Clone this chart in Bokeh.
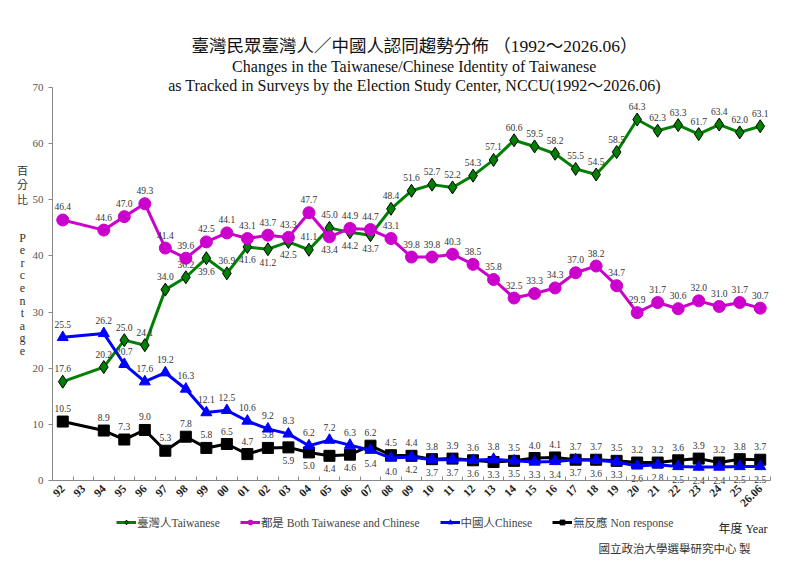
from bokeh.plotting import figure
from bokeh.models import ColumnDataSource, FixedTicker, Label, Legend, LegendItem, Range1d
from bokeh.core.properties import value
from bokeh.embed import file_html
from bokeh.resources import INLINE

# Data; 93 has no survey
years = ["92", "93", "94", "95", "96", "97", "98", "99", "00", "01", "02", "03", "04", "05",
         "06", "07", "08", "09", "10", "11", "12", "13", "14", "15", "16", "17", "18", "19",
         "20", "21", "22", "23", "24", "25", "26.06"]
taiwanese = [17.6, None, 20.2, 25.0, 24.1, 34.0, 36.2, 39.6, 36.9, 41.6, 41.2, 42.5, 41.1, 45.0,
             44.2, 43.7, 48.4, 51.6, 52.7, 52.2, 54.3, 57.1, 60.6, 59.5, 58.2, 55.5, 54.5, 58.5,
             64.3, 62.3, 63.3, 61.7, 63.4, 62.0, 63.1]
both = [46.4, None, 44.6, 47.0, 49.3, 41.4, 39.6, 42.5, 44.1, 43.1, 43.7, 43.3, 47.7, 43.4,
        44.9, 44.7, 43.1, 39.8, 39.8, 40.3, 38.5, 35.8, 32.5, 33.3, 34.3, 37.0, 38.2, 34.7,
        29.9, 31.7, 30.6, 32.0, 31.0, 31.7, 30.7]
chinese = [25.5, None, 26.2, 20.7, 17.6, 19.2, 16.3, 12.1, 12.5, 10.6, 9.2, 8.3, 6.2, 7.2,
           6.3, 5.4, 4.0, 4.2, 3.7, 3.7, 3.6, 3.8, 3.5, 3.3, 3.4, 3.7, 3.6, 3.3,
           2.6, 2.8, 2.5, 2.4, 2.4, 2.5, 2.5]
nonresp = [10.5, None, 8.9, 7.3, 9.0, 5.3, 7.8, 5.8, 6.5, 4.7, 5.8, 5.9, 5.0, 4.4,
           4.6, 6.2, 4.5, 4.4, 3.8, 3.9, 3.6, 3.3, 3.5, 4.0, 4.1, 3.7, 3.7, 3.5,
           3.2, 3.2, 3.6, 3.9, 3.2, 3.8, 3.7]
y_ticks = [0, 10, 20, 30, 40, 50, 60, 70]

SERIF = "'Liberation Serif', 'Noto Sans CJK TC'"
CJK = "'Noto Sans CJK TC'"

W, H = 800, 565
# plot area in page pixels: x 52..770, y 87..480 ; frame covers the whole canvas
n = len(years)
xpx = 718 / n
ypx = 393 / 70
x0 = -0.5 - 52 / xpx
y1 = 70 + 87 / ypx
p = figure(width=W, height=H, output_backend="svg", toolbar_location=None,
           x_range=Range1d(x0, x0 + W / xpx), y_range=Range1d(y1 - H / ypx, y1),
           min_border=0)
p.outline_line_color = None
p.xgrid.visible = False
p.ygrid.visible = False

series = [
    ("tw", taiwanese, "臺灣人Taiwanese", "#008000", "diamond", 13),
    ("both", both, "都是 Both Taiwanese and Chinese", "#CC00CC", "circle", 12),
    ("nr", nonresp, "無反應 Non response", "#000000", "square", 11),
    ("cn", chinese, "中國人Chinese", "#0000FF", "triangle", 11),
]
rank = {s[0]: k for k, s in enumerate(series)}
allvals = {s[0]: s[1] for s in series}

items = {}
for key, vals, name, color, marker, size in series:
    xs, ys, txt, offs = [], [], [], []
    for i, v in enumerate(vals):
        if v is None:
            continue
        # put the label under the point when another series sits just above it
        below = False
        for other, ovals in allvals.items():
            o = ovals[i]
            if other == key or o is None:
                continue
            if abs(v - o) < 3 and (v < o or (v == o and rank[key] > rank[other])):
                below = True
        xs.append(i)
        ys.append(v)
        txt.append(f"{v:.1f}")
        offs.append(13 if below else -13)
    src = ColumnDataSource(dict(x=xs, y=ys, t=txt, off=offs))
    ln = p.line("x", "y", source=src, line_color=color, line_width=3)
    mk = p.scatter("x", "y", source=src, marker=marker, size=size, fill_color=color,
                   line_color="black" if key == "tw" else color, line_width=1)
    p.text("x", "y", text="t", source=src, y_offset="off", text_align="center",
           text_baseline="middle", text_font=value(SERIF), text_font_size="9.5px",
           text_color="#333333")
    items[key] = LegendItem(label=name, renderers=[ln, mk])

# axes, pinned inside the full-canvas frame
p.xaxis.fixed_location = 0
p.xaxis.bounds = (-0.5, n - 0.5)
p.xaxis.ticker = FixedTicker(ticks=list(range(n)),
                             minor_ticks=[i + 0.5 for i in range(-1, n)])
p.xaxis.major_label_overrides = {i: y for i, y in enumerate(years)}
p.xaxis.major_label_orientation = 0.785
p.xaxis.major_tick_in = 0
p.xaxis.major_tick_out = 0
p.xaxis.minor_tick_in = 4
p.xaxis.minor_tick_out = 0
p.xaxis.minor_tick_line_color = "#888888"
p.xaxis.axis_line_color = "#888888"
p.xaxis.major_label_text_font = SERIF
p.xaxis.major_label_text_font_size = "11.5px"
p.xaxis.major_label_text_font_style = "bold"
p.xaxis.major_label_text_color = "#222222"
p.xaxis.major_label_standoff = 6

p.yaxis.fixed_location = -0.5
p.yaxis.bounds = (0, 70)
p.yaxis.ticker = FixedTicker(ticks=y_ticks)
p.yaxis.major_tick_in = 0
p.yaxis.major_tick_out = 4
p.yaxis.minor_tick_line_color = None
p.yaxis.axis_line_color = "#888888"
p.yaxis.major_tick_line_color = "#888888"
p.yaxis.major_label_text_font = SERIF
p.yaxis.major_label_text_font_size = "11px"
p.yaxis.major_label_text_color = "#555555"


def put(text, x, y, size, font=SERIF, align="center", color="#222222"):
    # x, y in page pixels from the top-left corner
    p.add_layout(Label(x=x, y=H - y, x_units="screen", y_units="screen", text=text,
                       text_align=align, text_baseline="middle", text_font=font,
                       text_font_size=size, text_color=color))


put("臺灣民眾臺灣人／中國人認同趨勢分佈 （1992～2026.06）", 414, 45, "17.5px", color="#111111")
put("Changes in the Taiwanese/Chinese Identity of Taiwanese", 414, 66, "16px", color="#111111")
put("as Tracked in Surveys by the Election Study Center, NCCU(1992～2026.06)", 414, 85, "16px",
    color="#111111")

# stacked y axis title
for k, ch in enumerate("百分比"):
    put(ch, 22, 169 + k * 14.5, "11px", font=CJK, color="#333333")
for k, ch in enumerate("Percentage"):
    put(ch, 22, 237 + k * 12.6, "12px", color="#333333")

legend = Legend(items=[items["tw"], items["both"], items["cn"], items["nr"]],
                orientation="horizontal", location=(116, H - 530), padding=0, margin=0,
                spacing=20, glyph_width=20, glyph_height=12, label_standoff=1,
                label_text_font=SERIF, label_text_font_size="11.5px",
                label_height=16, border_line_color=None, background_fill_alpha=0)
p.add_layout(legend)

put("年度 Year", 767, 528, "12px", align="right")
put("國立政治大學選舉研究中心 製", 750, 547, "11.5px", font=CJK, align="right", color="#333333")

open("out.html", "w").write(file_html(p, INLINE))
